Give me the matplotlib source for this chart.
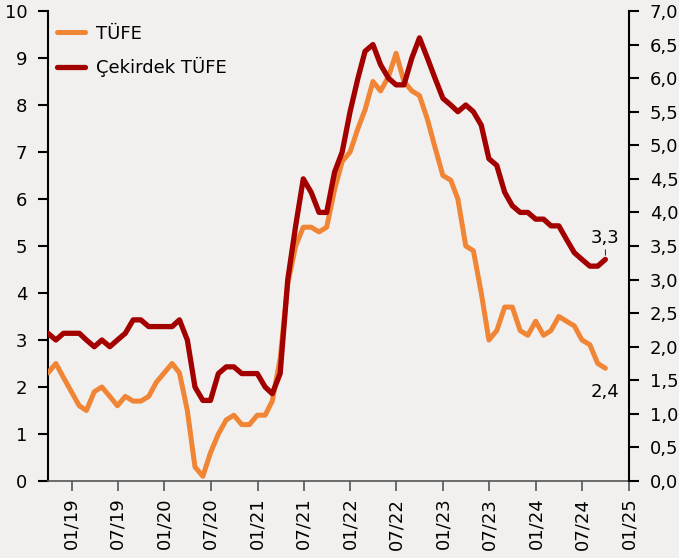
import matplotlib
matplotlib.use("Agg")
import matplotlib.pyplot as plt
import matplotlib.dates as mdates
import numpy as np
import pandas as pd

# aylik veriler, 09/2018 - 09/2024
dates = pd.date_range("2018-09-30", "2024-09-30", freq="ME")

tufe = [2.3, 2.5, 2.2, 1.9,
        1.6, 1.5, 1.9, 2.0, 1.8, 1.6, 1.8, 1.7, 1.7, 1.8, 2.1, 2.3,
        2.5, 2.3, 1.5, 0.3, 0.1, 0.6, 1.0, 1.3, 1.4, 1.2, 1.2, 1.4,
        1.4, 1.7, 2.6, 4.2, 5.0, 5.4, 5.4, 5.3, 5.4, 6.2, 6.8, 7.0,
        7.5, 7.9, 8.5, 8.3, 8.6, 9.1, 8.5, 8.3, 8.2, 7.7, 7.1, 6.5,
        6.4, 6.0, 5.0, 4.9, 4.0, 3.0, 3.2, 3.7, 3.7, 3.2, 3.1, 3.4,
        3.1, 3.2, 3.5, 3.4, 3.3, 3.0, 2.9, 2.5, 2.4]

cekirdek = [2.2, 2.1, 2.2, 2.2,
            2.2, 2.1, 2.0, 2.1, 2.0, 2.1, 2.2, 2.4, 2.4, 2.3, 2.3, 2.3,
            2.3, 2.4, 2.1, 1.4, 1.2, 1.2, 1.6, 1.7, 1.7, 1.6, 1.6, 1.6,
            1.4, 1.3, 1.6, 3.0, 3.8, 4.5, 4.3, 4.0, 4.0, 4.6, 4.9, 5.5,
            6.0, 6.4, 6.5, 6.2, 6.0, 5.9, 5.9, 6.3, 6.6, 6.3, 6.0, 5.7,
            5.6, 5.5, 5.6, 5.5, 5.3, 4.8, 4.7, 4.3, 4.1, 4.0, 4.0, 3.9,
            3.9, 3.8, 3.8, 3.6, 3.4, 3.3, 3.2, 3.2, 3.3]

tick_dates = pd.date_range("2019-01-01", "2025-01-01", freq="6MS")

bg = "#f2f0ef"
orange = "#f08535"
darkred = "#a30000"

fig = plt.figure(figsize=(6.79, 5.58), dpi=100, facecolor=bg)
ax = fig.add_axes([48/679, 77/558, 581/679, 470/558], facecolor=bg)
ax2 = ax.twinx()

ax.plot(dates, tufe, color=orange, lw=3.6, solid_capstyle="round", label="TÜFE", zorder=3)
ax2.plot(dates, cekirdek, color=darkred, lw=3.8, solid_capstyle="round", label="Çekirdek TÜFE")
ax.plot([], [], color=darkred, lw=3.8, solid_capstyle="round", label="Çekirdek TÜFE")

ax.set_ylim(0, 10)
ax.set_yticks(range(0, 11))
ax2.set_ylim(0, 7)
ax2.set_yticks(np.arange(0, 7.01, 0.5))
ax2.set_yticklabels([f"{v:.1f}".replace(".", ",") for v in np.arange(0, 7.01, 0.5)])

ax.set_xlim(dates[0], pd.Timestamp("2025-01-01"))
ax.set_xticks(tick_dates)
ax.xaxis.set_major_formatter(mdates.DateFormatter("%m/%y"))
plt.setp(ax.get_xticklabels(), rotation=90)

for a in (ax, ax2):
    a.spines["top"].set_visible(False)
    for s in a.spines.values():
        s.set_linewidth(1.5)
ax.spines["right"].set_visible(False)
ax2.spines["left"].set_visible(False)
ax2.spines["bottom"].set_visible(False)
ax.spines["bottom"].set_color("#555555")
ax.spines["bottom"].set_linewidth(1.2)

ax.tick_params(axis="y", labelsize=13, length=7, width=1.5, pad=8)
ax.tick_params(axis="x", labelsize=13, length=7, width=1.2, color="#555555", pad=5)
ax2.tick_params(axis="y", labelsize=13, length=7, width=1.5, pad=8)

ax.annotate("3,3", xy=(dates[-1], cekirdek[-1] * 10 / 7), xytext=(0, 9),
            textcoords="offset points", ha="center", va="bottom", fontsize=13,
            arrowprops=dict(arrowstyle="-", lw=0.6, color="black", shrinkA=0, shrinkB=3))
ax.annotate("2,4", xy=(dates[-1], tufe[-1]), xytext=(0, -11),
            textcoords="offset points", ha="center", va="top", fontsize=13)

ax.legend(loc="upper left", frameon=False, fontsize=13, handlelength=1.55,
          handletextpad=0.6, borderaxespad=0.1, labelspacing=0.78,
          bbox_to_anchor=(0.0, 0.99))

fig.savefig("out.png", dpi=100, facecolor=bg)
